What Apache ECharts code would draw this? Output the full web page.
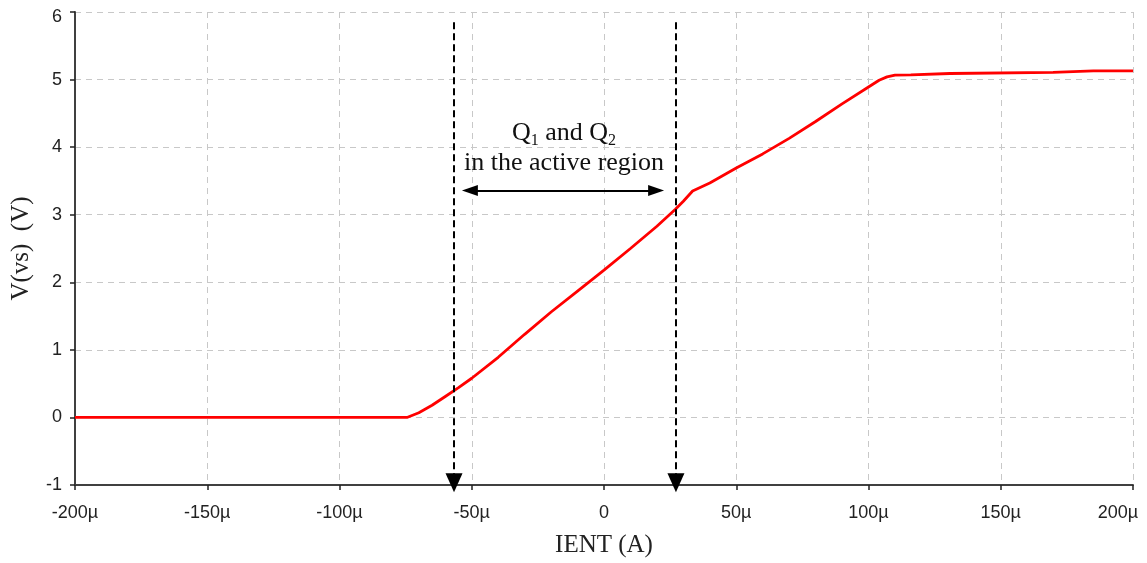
<!DOCTYPE html>
<html>
<head>
<meta charset="utf-8">
<script src="https://cdn.jsdelivr.net/npm/echarts@6/dist/echarts.min.js"></script>
<style>
  html, body { margin: 0; padding: 0; background: #fff; }
  #chart { width: 1147px; height: 563px; }
</style>
</head>
<body>
<div id="chart"></div>
<script>
// Sweep of input current IENT (µA) against output voltage V(vs) (V)
const ientMicroAmps = [-200, -150, -100, -80, -74.5, -70, -65, -60, -55, -50, -40, -30, -20, -10, 0, 10, 20, 27, 30, 33.5, 40, 50, 60, 70, 80, 90, 100, 104, 107, 110, 116, 116.4, 130.8, 131, 169.8, 170, 185, 200];
const vsVolts      = [0, 0, 0, 0, 0, 0.07, 0.18, 0.31, 0.44, 0.58, 0.89, 1.23, 1.56, 1.87, 2.18, 2.5, 2.83, 3.08, 3.2, 3.35, 3.47, 3.69, 3.9, 4.13, 4.38, 4.64, 4.89, 4.99, 5.04, 5.065, 5.07, 5.09, 5.09, 5.107, 5.107, 5.13, 5.13, 5.13];

// Boundaries of the active region (µA) and the span arrow / caption
const activeStart = -56.7;
const activeEnd = 27.2;
const arrowLeft = -50.7;
const arrowRight = 19.7;
const arrowLevel = 3.36;
const markerTop = 5.85;
const markerBottom = -0.965;
const labelCenter = -15.1;
const labelLevel = 3.98;

const xTicks = { min: -200, max: 200, step: 50 };
const yTicks = { min: -1, max: 6, step: 1 };

const chart = echarts.init(document.getElementById('chart'), null, { renderer: 'canvas' });

const axisText = { color: '#222', fontFamily: 'Liberation Sans', fontSize: 18 };
const gridLine = { show: true, lineStyle: { color: '#c8c8c8', type: [6, 5], width: 1 } };

// edge labels are nudged inward so they stay inside the canvas
const xLabel = v => {
  const s = v === 0 ? '0' : v + 'µ';
  return v === xTicks.max ? '{edge|' + s + '}' : s;
};
const yLabel = v => v === yTicks.max ? '{edge|' + v + '}' : String(v);

chart.setOption({
  animation: false,
  backgroundColor: '#fff',
  grid: { left: 75, right: 14, top: 12, bottom: 78, containLabel: false, outerBoundsMode: 'none' },
  xAxis: {
    type: 'value',
    min: xTicks.min, max: xTicks.max, interval: xTicks.step,
    name: 'IENT (A)',
    nameLocation: 'middle',
    nameGap: 48,
    nameTextStyle: { fontFamily: 'Liberation Serif', fontSize: 25, color: '#222' },
    axisLine: { show: true, onZero: false, lineStyle: { color: '#404040', width: 2 } },
    axisTick: { show: true, length: 5, lineStyle: { color: '#222', width: 1.5 } },
    axisLabel: Object.assign({
      margin: 19,
      formatter: xLabel,
      rich: { edge: Object.assign({ padding: [0, 30, 0, 0] }, axisText) }
    }, axisText),
    splitLine: gridLine
  },
  yAxis: {
    type: 'value',
    min: yTicks.min, max: yTicks.max, interval: yTicks.step,
    name: 'V(vs)  (V)',
    nameLocation: 'middle',
    nameGap: 41,
    nameTextStyle: { fontFamily: 'Liberation Serif', fontSize: 25, color: '#222' },
    axisLine: { show: true, onZero: false, lineStyle: { color: '#404040', width: 2 } },
    axisTick: { show: true, length: 5, lineStyle: { color: '#222', width: 1.5 } },
    axisLabel: Object.assign({
      margin: 13,
      formatter: yLabel,
      rich: { edge: Object.assign({ padding: [10, 0, 0, 0] }, axisText) }
    }, axisText),
    splitLine: gridLine
  },
  series: [
    {
      type: 'line',
      data: ientMicroAmps.map((x, i) => [x, vsVolts[i]]),
      showSymbol: false,
      lineStyle: { color: '#ff0000', width: 2.8 },
      z: 3
    },
    {
      // annotation: active-region bounds, span arrow and caption
      type: 'line',
      data: [],
      silent: true,
      markLine: {
        silent: true,
        animation: false,
        label: { show: false },
        data: [
          [
            { coord: [activeStart, markerTop], symbol: 'none' },
            { coord: [activeStart, markerBottom], symbol: 'triangle', symbolSize: [17, 19] }
          ],
          [
            { coord: [activeEnd, markerTop], symbol: 'none' },
            { coord: [activeEnd, markerBottom], symbol: 'triangle', symbolSize: [17, 19] }
          ],
          [
            { coord: [arrowLeft, arrowLevel], symbol: 'triangle', symbolSize: [11, 16], lineStyle: { type: 'solid', width: 2 } },
            { coord: [arrowRight, arrowLevel], symbol: 'triangle', symbolSize: [11, 16] }
          ]
        ],
        lineStyle: { color: '#000', type: [7, 4], width: 2 },
        itemStyle: { color: '#000' }
      },
      markPoint: {
        silent: true,
        symbol: 'circle',
        symbolSize: 0,
        data: [{ coord: [labelCenter, labelLevel] }],
        label: {
          show: true,
          position: 'inside',
          align: 'center',
          verticalAlign: 'middle',
          formatter: 'Q{sub|1} and Q{sub|2}\nin the active region',
          fontFamily: 'Liberation Serif',
          fontSize: 26,
          lineHeight: 30,
          color: '#111',
          rich: {
            sub: { fontFamily: 'Liberation Serif', fontSize: 16, color: '#111', verticalAlign: 'bottom', padding: [11, 0, 0, 0] }
          }
        }
      }
    }
  ]
});
</script>
</body>
</html>
